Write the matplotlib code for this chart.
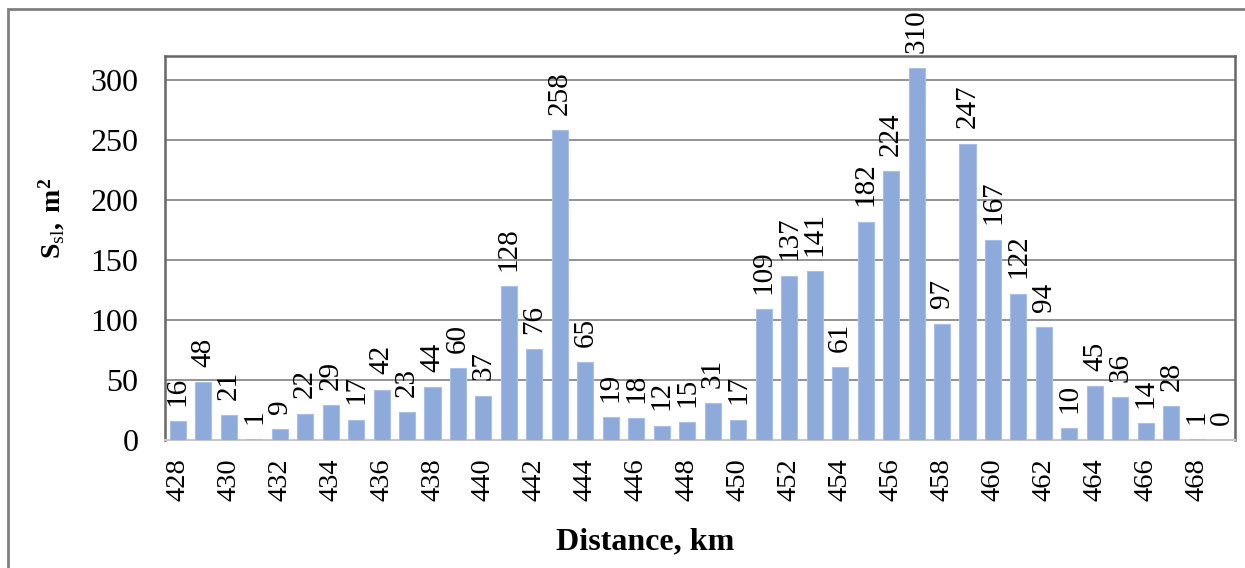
import numpy as np
import matplotlib.pyplot as plt
from matplotlib.patches import Rectangle

plt.rcParams['font.family'] = ['Liberation Serif', 'DejaVu Serif']
plt.rcParams['mathtext.fontset'] = 'custom'
plt.rcParams['mathtext.rm'] = 'Liberation Serif'
plt.rcParams['mathtext.bf'] = 'Liberation Serif:bold'
plt.rcParams['mathtext.it'] = 'Liberation Serif:italic'

# Data
distance_km = list(range(428, 470))
area_m2 = [16, 48, 21, 1, 9, 22, 29, 17, 42, 23, 44, 60, 37, 128, 76, 258, 65,
           19, 18, 12, 15, 31, 17, 109, 137, 141, 61, 182, 224, 310, 97, 247,
           167, 122, 94, 10, 45, 36, 14, 28, 1, 0]

fig = plt.figure(figsize=(12.45, 5.68), dpi=100)
ax = fig.add_axes([165 / 1245, 1 - 440 / 568, 1070 / 1245, 384 / 568])

# outer chart frame (cut off at the right and bottom, like the source)
fig.patches.append(Rectangle((8 / 1245, -0.1), 1.2, 1 - 9 / 568 + 0.1,
                             transform=fig.transFigure, fill=False,
                             edgecolor='#808080', linewidth=2))

x = np.arange(len(distance_km))
ax.bar(x, area_m2, width=0.63, color='#8eaadb', edgecolor='#a9bfe6',
       linewidth=0.8, zorder=3)

for xi, v in zip(x, area_m2):
    ax.annotate(str(v), (xi, v), xytext=(0, 11), textcoords='offset points',
                rotation=90, ha='center', va='bottom', fontsize=21,
                annotation_clip=False)

ax.set_xlim(-0.5, len(x) - 0.5)
ax.set_ylim(0, 320)
ax.set_yticks(range(0, 301, 50))
ax.set_xticks(x[::2])
ax.set_xticklabels([str(d) for d in distance_km[::2]], rotation=90)
ax.tick_params(axis='both', length=0)
ax.tick_params(axis='y', pad=19, labelsize=23)
ax.tick_params(axis='x', pad=13, labelsize=20.5)
ax.yaxis.grid(True, color='#808080', linewidth=1.2, zorder=0)
ax.set_axisbelow(True)

for side in ['left', 'top', 'right']:
    ax.spines[side].set_color('#666666')
    ax.spines[side].set_linewidth(1.8)
ax.spines['bottom'].set_color('#c8c8c8')
ax.spines['bottom'].set_linewidth(1.5)

ax.set_xlabel('Distance, km', fontsize=23, fontweight='bold')
ax.xaxis.set_label_coords((645 - 165) / 1070, -(527 - 440) / 384)
ax.set_ylabel(r'$\mathbf{S}_{\mathrm{sl}}\mathbf{,\ m^2}$', fontsize=20)
ax.yaxis.set_label_coords(-(165 - 67) / 1070, (440 - 218) / 384)

fig.savefig('out.png', dpi=100)
